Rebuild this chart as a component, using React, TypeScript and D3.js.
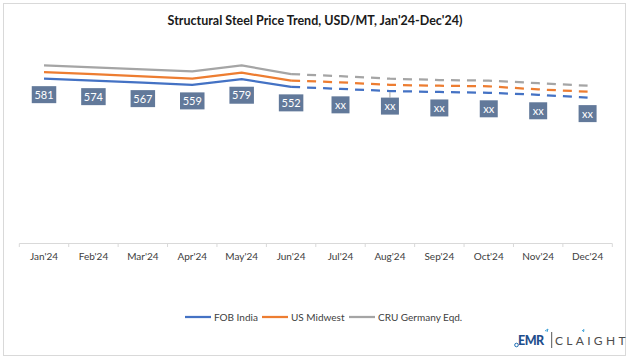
import React from 'react'
import * as d3 from 'd3'

// chart data
const months = ["Jan'24", "Feb'24", "Mar'24", "Apr'24", "May'24", "Jun'24", "Jul'24", "Aug'24", "Sep'24", "Oct'24", "Nov'24", "Dec'24"]

const fobIndiaActual = [581, 574, 567, 559, 579, 552]
const fobIndiaForecast = [545, 537, 534, 531, 524, 514]

const usMidwestActual = [604, 597, 589, 581, 602, 574]
const usMidwestForecast = [568, 559, 556, 554, 543, 535]

const cruGermanyActual = [628, 621, 614, 607, 628, 597]
const cruGermanyForecast = [590, 581, 576, 574, 565, 556]

const fobLabels = ['581', '574', '567', '559', '579', '552', 'xx', 'xx', 'xx', 'xx', 'xx', 'xx']

const seriesNames = ['FOB India', 'US Midwest', 'CRU Germany Eqd.']
const seriesColors = ['#4472C4', '#ED7D31', '#A5A5A5']

const W = 630
const H = 361
const FONT = "Lato, 'Open Sans', sans-serif"

const App = () => {
	const x = d3.scaleBand().domain(months).range([19.3, 612.3]).padding(0)
	const y = d3.scaleLinear().domain([0, 700]).range([243, 45])
	const cx = (m: string) => (x(m) as number) + x.bandwidth() / 2

	const line = d3
		.line<{ m: string; v: number }>()
		.x(d => cx(d.m))
		.y(d => y(d.v))

	const series = [
		[fobIndiaActual, fobIndiaForecast],
		[usMidwestActual, usMidwestForecast],
		[cruGermanyActual, cruGermanyForecast],
	]

	// forecast part starts at the last actual month
	const split = (actual: number[], forecast: number[]) => {
		const a = actual.map((v, i) => ({ m: months[i], v }))
		const f = [actual[actual.length - 1], ...forecast].map((v, i) => ({ m: months[actual.length - 1 + i], v }))
		return { a, f }
	}

	const fobAll = [...fobIndiaActual, ...fobIndiaForecast]

	const legendX = [185, 262, 349]

	return (
		<svg width={W} height={H} style={{ position: 'absolute', left: 0, top: 0, background: '#fff' }}>
			<rect x={3.5} y={3.5} width={622} height={352} fill="#fff" stroke="#d9d9d9" strokeWidth={1} />

			<text x={315} y={24.5} textAnchor="middle" fontFamily={FONT} fontWeight="bold" fontSize={12.5} fill="#1a1a1a">
				Structural Steel Price Trend, USD/MT, Jan'24-Dec'24)
			</text>

			{/* x axis */}
			<line x1={19.3} x2={612.3} y1={243.5} y2={243.5} stroke="#d9d9d9" />
			{months.map((m, i) => (
				<line key={'t' + i} x1={x(m)} x2={x(m)} y1={243.5} y2={247} stroke="#d9d9d9" />
			))}
			<line x1={612.3} x2={612.3} y1={243.5} y2={247} stroke="#d9d9d9" />
			{months.map(m => (
				<text key={m} x={cx(m)} y={260} textAnchor="middle" fontFamily={FONT} fontSize={10} fill="#404040">
					{m}
				</text>
			))}

			{/* lines, drawn grey first so blue is on top */}
			{series
				.map((s, i) => ({ s, i }))
				.reverse()
				.map(({ s, i }) => {
					const { a, f } = split(s[0], s[1])
					return (
						<g key={'s' + i}>
							<path d={line(a) || ''} fill="none" stroke={seriesColors[i]} strokeWidth={2.25} strokeLinejoin="round" />
							<path d={line(f) || ''} fill="none" stroke={seriesColors[i]} strokeWidth={2.25} strokeDasharray="9 7" />
						</g>
					)
				})}

			{/* data labels on FOB India */}
			{fobLabels.map((t, i) => {
				const m = months[i]
				const ly = y(fobAll[i]) + (i === 7 ? 15 : 16)
				const w = t.length * 6.5 + 5
				return (
					<g key={'l' + i}>
						{i === 7 && <line x1={cx(m)} x2={cx(m)} y1={y(fobAll[i]) + 1} y2={ly - 8.5} stroke="#a6a6a6" />}
						<rect x={cx(m) - w / 2} y={ly - 8.5} width={w} height={17} fill="#62799a" />
						<text x={cx(m)} y={ly + 4} textAnchor="middle" fontFamily={FONT} fontSize={11} fill="#fff">
							{t}
						</text>
					</g>
				)
			})}

			{/* legend */}
			{seriesNames.map((n, i) => (
				<g key={n}>
					<line x1={legendX[i]} x2={legendX[i] + 26} y1={317} y2={317} stroke={seriesColors[i]} strokeWidth={2.25} />
					<text x={legendX[i] + 29} y={320.5} fontFamily={FONT} fontSize={10} fill="#404040">
						{n}
					</text>
				</g>
			))}

			{/* logo */}
			<circle cx={516.5} cy={345} r={1.8} fill="none" stroke="#1f6fb5" strokeWidth={1} />
			<text x={518} y={344.5} fontFamily={FONT} fontWeight="900" fontSize={12.5} fill="#1f4e8c" letterSpacing={-0.5}>
				EMR
			</text>
			<path d="M545 331 l3 -2 l-1 3" fill="none" stroke="#3aa0d8" strokeWidth={1} />
			<line x1={551.7} x2={551.7} y1={332} y2={348} stroke="#555" strokeWidth={1} />
			<text x={555} y={344.5} fontFamily={FONT} fontSize={12} fill="#4d4d4d" letterSpacing={3.3}>
				CLAIGHT
			</text>
			<path d="M582 331 l2 -1.5 l-0.5 2.5" fill="none" stroke="#3aa0d8" strokeWidth={1} />
		</svg>
	)
}

export default App
